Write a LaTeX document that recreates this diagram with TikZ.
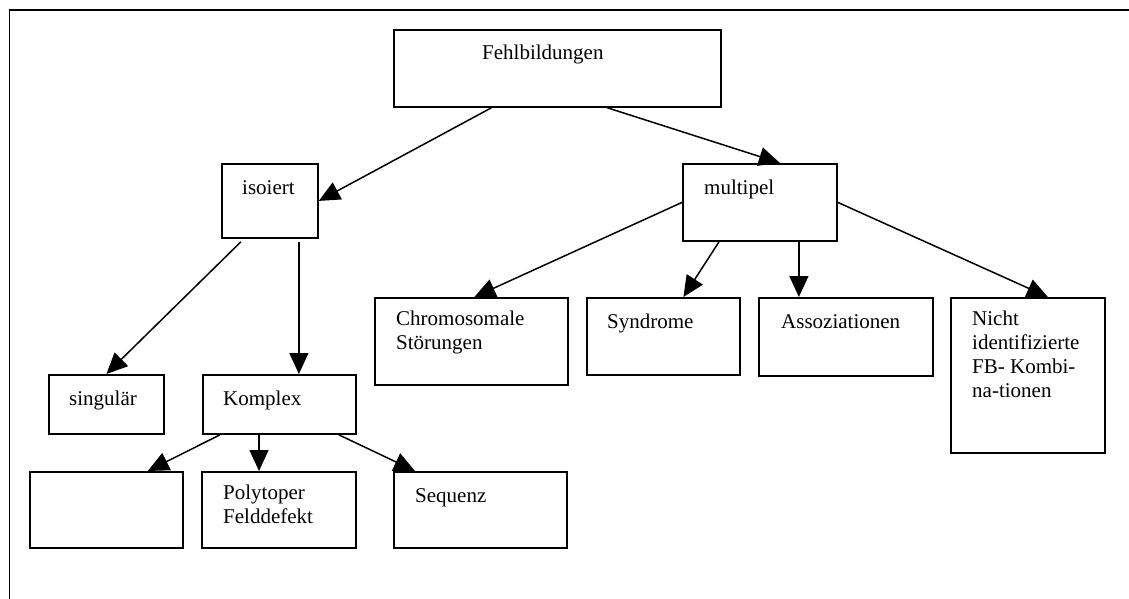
\documentclass[tikz,border=0pt]{standalone}
\usepackage{fontspec}
\setmainfont{Liberation Serif}
\usetikzlibrary{arrows.meta}

\begin{document}
\begin{tikzpicture}[x=1pt, y=-1pt,
    kasten/.style={draw, line width=1.8pt, fill=white, rectangle, anchor=north west, inner sep=0pt},
    txt/.style={anchor=north west, inner sep=0pt, align=left, font=\fontsize{21}{24}\selectfont, execute at begin node=\strut},
    pfeil/.style={line width=1.5pt, -{Triangle[length=21pt, width=19pt]}}]
            \useasboundingbox (0, 0) rectangle (1129, 599);
            \draw[line width=1.8pt] (9.5, 599) -- (9.5, 10) -- (1129, 10);

            % Kaesten
            \node[kasten, minimum width=327pt, minimum height=77pt] (fehl) at (393, 29) {};
            \node[kasten, minimum width=96pt, minimum height=74pt] (iso) at (221, 163) {};
            \node[kasten, minimum width=154pt, minimum height=77pt] (mult) at (682, 163) {};
            \node[kasten, minimum width=115pt, minimum height=59pt] (sing) at (48, 374) {};
            \node[kasten, minimum width=153pt, minimum height=59pt] (kompl) at (202, 374) {};
            \node[kasten, minimum width=153pt, minimum height=76pt] (leer) at (29, 471) {};
            \node[kasten, minimum width=154pt, minimum height=76pt] (poly) at (201, 471) {};
            \node[kasten, minimum width=173pt, minimum height=76pt] (seq) at (393, 471) {};
            \node[kasten, minimum width=193pt, minimum height=87pt] (chrom) at (374, 297) {};
            \node[kasten, minimum width=153pt, minimum height=77pt] (syn) at (586, 297) {};
            \node[kasten, minimum width=174pt, minimum height=78pt] (ass) at (758, 297) {};
            \node[kasten, minimum width=154pt, minimum height=155pt] (nicht) at (950, 297) {};

            % Texte
            \node[txt] (fehltxt) at ([xshift=89pt, yshift=-14pt]fehl.north west) {Fehlbildungen};
            \node[txt] (isotxt) at ([xshift=21pt, yshift=-14pt]iso.north west) {isoiert};
            \node[txt] (multtxt) at ([xshift=22pt, yshift=-14pt]mult.north west) {multipel};
            \node[txt] (singtxt) at ([xshift=21pt, yshift=-14pt]sing.north west) {singulär};
            \node[txt] (kompltxt) at ([xshift=21pt, yshift=-14pt]kompl.north west) {Komplex};
            \node[txt] (polytxt) at ([xshift=22pt, yshift=-14pt]poly.north west) {Polytoper\\Felddefekt};
            \node[txt] (seqtxt) at ([xshift=22pt, yshift=-14pt]seq.north west) {Sequenz};
            \node[txt] (chromtxt) at ([xshift=22pt, yshift=-14pt]chrom.north west) {Chromosomale\\Störungen};
            \node[txt] (syntxt) at ([xshift=21pt, yshift=-14pt]syn.north west) {Syndrome};
            \node[txt] (asstxt) at ([xshift=23pt, yshift=-14pt]ass.north west) {Assoziationen};
            \node[txt] (nichttxt) at ([xshift=22pt, yshift=-14pt]nicht.north west) {Nicht\\identifizierte\\FB- Kombi-\\na-tionen};

            % Pfeile
            \draw[pfeil] ([xshift=-66pt]fehl.south) -- (iso.east);
            \draw[pfeil] ([xshift=50pt]fehl.south) -- ([xshift=20pt]mult.north);
            \draw[pfeil] ([xshift=-29pt, yshift=-3pt]iso.south) -- (sing.north);
            \draw[pfeil] ([xshift=29pt, yshift=-3pt]iso.south) -- ([xshift=29pt]iso.south |- kompl.north);
            \draw[pfeil] ([xshift=18pt]kompl.south west) -- ([xshift=-36pt]leer.north east);
            \draw[pfeil] ([xshift=57pt]kompl.south west) -- ([xshift=57pt]kompl.south west |- poly.north);
            \draw[pfeil] ([xshift=-18pt]kompl.south east) -- ([xshift=22pt]seq.north west);
            \draw[pfeil] (mult.west) -- ([xshift=3pt]chrom.north);
            \draw[pfeil] ([xshift=37pt]mult.south west) -- ([xshift=20pt]syn.north);
            \draw[pfeil] ([xshift=39pt]mult.south) -- ([xshift=39pt]mult.south |- ass.north);
            \draw[pfeil] (mult.east) -- ([xshift=20pt]nicht.north);
        \end{tikzpicture}
\end{document}
